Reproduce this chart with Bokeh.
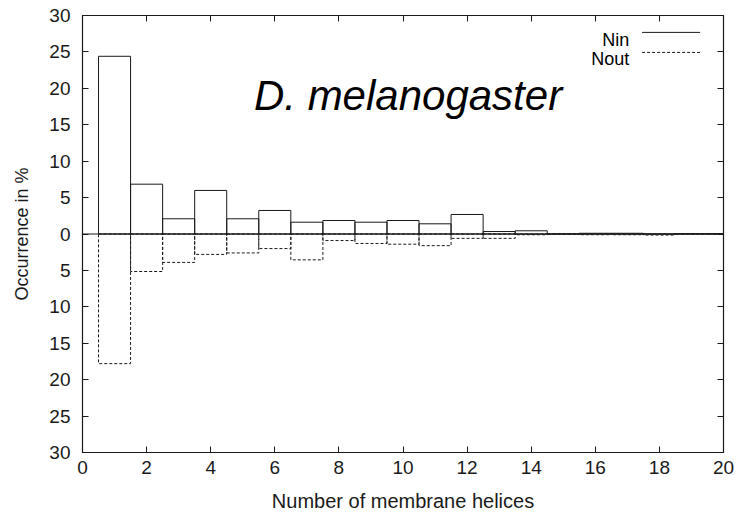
from bokeh.plotting import figure
from bokeh.models import LinearAxis, Span, Label, FixedTicker, Range1d, ColumnDataSource
from bokeh.embed import file_html
from bokeh.resources import INLINE

# ---- data ----
helices = list(range(1, 21))
nin = [24.4, 6.84, 2.09, 5.98, 2.09, 3.23, 1.62, 1.85, 1.62, 1.85,
       1.4, 2.68, 0.34, 0.44, 0.0, 0.1, 0.1, 0.0, 0.05, 0.05]
nout = [17.8, 5.15, 3.9, 2.8, 2.6, 2.0, 3.55, 0.9, 1.3, 1.4,
        1.6, 0.6, 0.6, 0.1, 0.0, 0.1, 0.1, 0.15, 0.0, 0.0]
x_ticks = list(range(0, 21, 2))
y_ticks = list(range(-30, 31, 5))
title_text = "D. melanogaster"
x_label = "Number of membrane helices"
y_label = "Occurrence in %"
series_names = ["Nin", "Nout"]

FONT = "Liberation Sans"
INK = "#1a1a1a"

src = ColumnDataSource(dict(
    left=[h - 0.5 for h in helices],
    right=[h + 0.5 for h in helices],
    nin=nin,
    nout_neg=[-v for v in nout],
    zero=[0] * len(helices),
))

p = figure(width=740, height=522, output_backend="svg", toolbar_location=None,
           x_range=Range1d(0, 20), y_range=Range1d(-30, 30),
           min_border_left=82, min_border_right=17, min_border_top=15, min_border_bottom=70)
p.background_fill_color = "white"
p.border_fill_color = "white"
p.outline_line_color = INK
p.outline_line_width = 1.2
p.grid.visible = False

# axes
for ax in (p.xaxis[0], p.yaxis[0]):
    ax.major_tick_in = 6
    ax.major_tick_out = 0
    ax.minor_tick_line_color = None
    ax.axis_line_color = INK
    ax.major_tick_line_color = INK
    ax.major_label_text_font = FONT
    ax.major_label_text_font_size = "19px"
    ax.major_label_text_color = INK
    ax.axis_label_text_font = FONT
    ax.axis_label_text_font_style = "normal"
    ax.axis_label_text_color = INK

p.xaxis[0].ticker = FixedTicker(ticks=x_ticks)
p.yaxis[0].ticker = FixedTicker(ticks=y_ticks)
p.yaxis[0].major_label_overrides = {t: str(abs(t)) for t in y_ticks}
p.xaxis[0].axis_label = x_label
p.yaxis[0].axis_label = y_label
p.xaxis[0].axis_label_text_font_size = "20px"
p.yaxis[0].axis_label_text_font_size = "18px"
p.xaxis[0].major_label_standoff = 8
p.yaxis[0].major_label_standoff = 12
p.xaxis[0].axis_label_standoff = 13
p.yaxis[0].axis_label_standoff = 14

# tick-only axes on top and right (no labels)
top_ax = LinearAxis(ticker=FixedTicker(ticks=x_ticks),
                    major_label_overrides={t: "" for t in x_ticks})
right_ax = LinearAxis(ticker=FixedTicker(ticks=y_ticks),
                      major_label_overrides={t: "" for t in y_ticks})
for ax in (top_ax, right_ax):
    ax.major_tick_in = 6
    ax.major_tick_out = 0
    ax.minor_tick_line_color = None
    ax.axis_line_color = None
    ax.major_tick_line_color = INK
    ax.major_label_standoff = 0
p.add_layout(top_ax, "above")
p.add_layout(right_ax, "right")

# zero line
p.add_layout(Span(location=0, dimension="width", line_color=INK, line_width=1))

# bars
p.quad(left="left", right="right", bottom="zero", top="nin", source=src,
       fill_color=None, line_color=INK, line_width=1)
p.quad(left="left", right="right", bottom="nout_neg", top="zero", source=src,
       fill_color=None, line_color=INK, line_width=1, line_dash="3 2")

# title
p.add_layout(Label(x=5.35, y=19.0, text=title_text, text_font=FONT,
                   text_font_style="italic", text_font_size="42px",
                   text_color="black", text_baseline="alphabetic"))

# legend (label left, sample line right)
leg_text_x = 17.06
leg_line_x = [17.46, 19.27]
leg_rows = [(26.7, 27.68, "solid"), (23.97, 24.93, "3 2")]
for name, (ty, ly, dash) in zip(series_names, leg_rows):
    p.add_layout(Label(x=leg_text_x, y=ty, text=name, text_font=FONT,
                       text_font_size="18px", text_color="black",
                       text_align="right", text_baseline="alphabetic"))
    p.line(x=leg_line_x, y=[ly, ly], line_color=INK, line_width=1, line_dash=dash)

open("out.html", "w").write(file_html(p, INLINE))
